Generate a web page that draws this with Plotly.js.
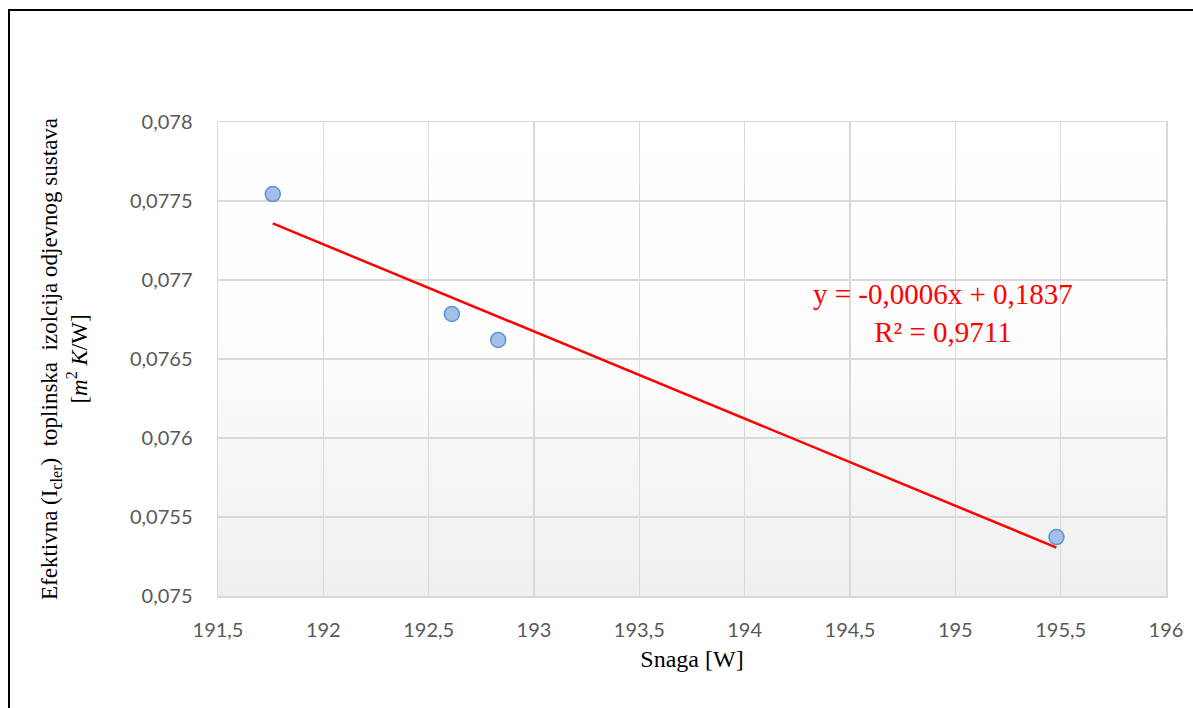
<!DOCTYPE html>
<html>
<head>
<meta charset="utf-8">
<script src="https://cdn.plot.ly/plotly-3.0.1.min.js"></script>
<style>
  html, body { margin: 0; padding: 0; background: #fff; }
  #wrap { position: relative; width: 1193px; height: 708px; overflow: hidden; }
  #chart { position: absolute; left: 0; top: 0; width: 1193px; height: 708px; }
  #frame { position: absolute; left: 8px; top: 9px; right: -5px; bottom: -5px;
           border-top: 2px solid #000; border-left: 2px solid #000; pointer-events: none; }
</style>
</head>
<body>
<div id="wrap">
  <div id="chart"></div>
  <div id="frame"></div>
</div>
<script>
// Data
const snaga = [191.76, 192.61, 192.83, 195.48];          // Snaga [W]
const izolacija = [0.077544, 0.076785, 0.07662, 0.075373]; // Icler [m2 K/W]

const xTickVals = [191.5, 192, 192.5, 193, 193.5, 194, 194.5, 195, 195.5, 196];
const xTickText = ["191,5", "192", "192,5", "193", "193,5", "194", "194,5", "195", "195,5", "196"];
const yTickVals = [0.075, 0.0755, 0.076, 0.0765, 0.077, 0.0775, 0.078];
const yTickText = ["0,075", "0,0755", "0,076", "0,0765", "0,077", "0,0775", "0,078"];

const equationText = "y = -0,0006x + 0,1837<br>R² = 0,9711";

// Linear least-squares trend line computed from the data
const n = snaga.length;
const mx = snaga.reduce((a, b) => a + b, 0) / n;
const my = izolacija.reduce((a, b) => a + b, 0) / n;
let sxy = 0, sxx = 0;
for (let i = 0; i < n; i++) { sxy += (snaga[i] - mx) * (izolacija[i] - my); sxx += (snaga[i] - mx) ** 2; }
const slope = sxy / sxx, intercept = my - slope * mx;
const xMin = Math.min(...snaga), xMax = Math.max(...snaga);
const trendX = [xMin, xMax];
const trendY = trendX.map(x => slope * x + intercept);

const gradSvg = '<svg xmlns="http://www.w3.org/2000/svg" width="100" height="100" preserveAspectRatio="none">' +
  '<defs><linearGradient id="g" x1="0" y1="0" x2="0" y2="1">' +
  '<stop offset="0" stop-color="#ffffff"/><stop offset="0.45" stop-color="#fdfdfd"/><stop offset="1" stop-color="#efefef"/>' +
  '</linearGradient></defs><rect width="100" height="100" fill="url(#g)"/></svg>';
const gradUri = 'data:image/svg+xml;charset=utf-8,' + encodeURIComponent(gradSvg);

const traces = [
  {
    x: trendX, y: trendY, type: 'scatter', mode: 'lines',
    line: { color: '#ff0000', width: 2.5 }, hoverinfo: 'skip', showlegend: false
  },
  {
    x: snaga, y: izolacija, type: 'scatter', mode: 'markers',
    marker: { size: 15, color: '#a2bfe6', line: { color: '#5b93d3', width: 1.5 } },
    showlegend: false
  }
];

const tickFont = { family: 'Lato, "Liberation Sans", sans-serif', size: 20, color: '#595959' };
const serif = '"Liberation Serif", "Times New Roman", serif';

const layout = {
  width: 1193, height: 708,
  margin: { l: 218, r: 27, t: 122, b: 112, pad: 0 },
  paper_bgcolor: 'rgba(0,0,0,0)',
  plot_bgcolor: 'rgba(0,0,0,0)',
  separators: ', ',
  showlegend: false,
  xaxis: {
    range: [191.5, 196], tickvals: xTickVals, ticktext: xTickText,
    showgrid: true, gridcolor: '#d9d9d9', gridwidth: 1.3,
    showline: true, linecolor: '#d9d9d9', linewidth: 1.5, mirror: true,
    zeroline: false, ticks: 'outside', ticklen: 15, tickcolor: 'rgba(0,0,0,0)',
    tickfont: tickFont,
    title: { text: 'Snaga [W]', font: { family: serif, size: 24, color: '#000' }, standoff: 10 },
    automargin: false
  },
  yaxis: {
    range: [0.075, 0.078], tickvals: yTickVals, ticktext: yTickText,
    showgrid: true, gridcolor: '#d9d9d9', gridwidth: 1.3,
    showline: true, linecolor: '#d9d9d9', linewidth: 1.5, mirror: true,
    zeroline: false, ticks: 'outside', ticklen: 20, tickcolor: 'rgba(0,0,0,0)',
    tickfont: tickFont,
    title: {
      text: 'Efektivna (I<sub>cler</sub>)  toplinska  izolcija odjevnog sustava<br>[<i>m</i><sup>2</sup> <i>K</i>/W]',
      font: { family: serif, size: 23, color: '#000' }, standoff: 36
    },
    automargin: false
  },
  images: [{
    source: gradUri, xref: 'paper', yref: 'paper', x: 0, y: 1, sizex: 1, sizey: 1,
    xanchor: 'left', yanchor: 'top', sizing: 'stretch', layer: 'below'
  }],
  annotations: [{
    xref: 'paper', yref: 'paper', x: 0.7643, y: 0.598, xanchor: 'center', yanchor: 'middle',
    text: equationText, showarrow: false, align: 'center',
    font: { family: serif, size: 29, color: '#ff0000' }
  }]
};

Plotly.newPlot('chart', traces, layout, { displayModeBar: false, staticPlot: true });
</script>
</body>
</html>
